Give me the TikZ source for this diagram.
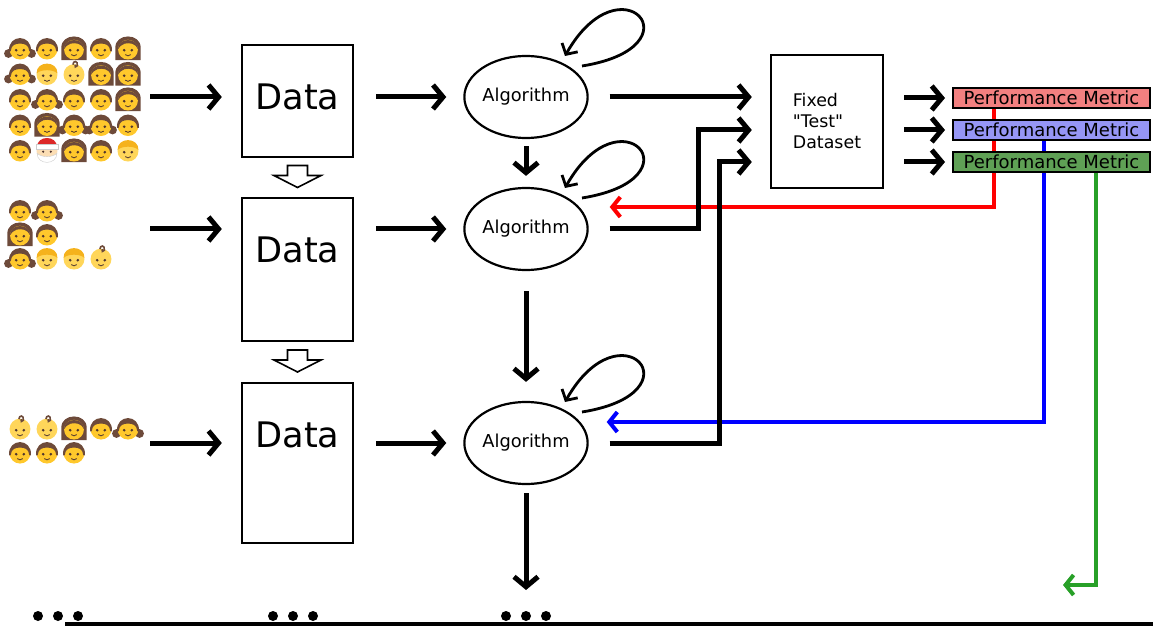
\documentclass[tikz,border=0pt]{standalone}
\usepackage{fontspec}
\setmainfont{DejaVu Sans}
\usetikzlibrary{calc}
\usetikzlibrary{shapes.geometric}
\usetikzlibrary{positioning}
\usetikzlibrary{arrows.meta}

\definecolor{faceyellow}{RGB}{255,200,44}
\definecolor{babyyellow}{RGB}{255,214,90}
\definecolor{blondhair}{RGB}{245,178,28}
\definecolor{hairbrown}{RGB}{109,74,58}
\definecolor{eyebrown}{RGB}{78,52,46}
\definecolor{santaskin}{RGB}{252,222,180}
\definecolor{santared}{RGB}{220,40,40}
\definecolor{metricred}{RGB}{242,128,128}
\definecolor{metricblue}{RGB}{150,150,245}
\definecolor{metricgreen}{RGB}{95,160,85}
\definecolor{linegreen}{RGB}{40,160,40}

\pgfdeclarelayer{background}
\pgfsetlayers{background,main}

% faces, drawn around (0,0), y pointing down
\newcommand\faceeyes{%
  \fill[eyebrown] (-3.5,2) circle (1.3) (3.5,2) circle (1.3);
  \draw[eyebrown, line width=.4pt] (-2.5,6) .. controls (0,7.5) .. (2.5,6);}
\newcommand\faceboy{%
  \fill[faceyellow] (0,1) circle (9.5);
  \fill[hairbrown] (-10,3) .. controls (-11,-13) and (11,-13) .. (10,3) -- (8.5,3)
    .. controls (8,-3) and (4,-4) .. (0,-4) .. controls (-4,-4) and (-8,-3) .. (-8.5,3) -- cycle;
  \faceeyes}
\newcommand\facegirl{%
  \fill[hairbrown] (-10.5,5) circle (4) (10.5,5) circle (4);
  \faceboy}
\newcommand\facewoman{%
  \fill[hairbrown] (-11.5,11) -- (-11.5,0) .. controls (-12,-14) and (12,-14) .. (11.5,0) -- (11.5,11) -- cycle;
  \fill[faceyellow] (0,1.5) circle (9);
  \fill[hairbrown] (-9,1) .. controls (-9,-10) and (9,-10) .. (9,1)
    .. controls (7,-4) and (2,-5) .. (-3,-4) .. controls (-6,-3) and (-8,-1) .. (-9,1) -- cycle;
  \faceeyes}
\newcommand\facebaby{%
  \fill[babyyellow] (0,1) circle (9.5);
  \draw[hairbrown, line width=.8pt] (-1,-8) .. controls (-1,-12) and (4,-12) .. (3,-7)
    .. controls (2,-5) and (0,-6) .. (1,-8);
  \faceeyes}
\newcommand\faceblond{%
  \fill[babyyellow] (0,1) circle (9.5);
  \fill[blondhair] (-9.5,0) .. controls (-10,-12) and (10,-12) .. (9.5,0)
    .. controls (6,-4) and (-6,-4) .. (-9.5,0) -- cycle;
  \faceeyes}
\newcommand\facesanta{%
  \fill[santaskin] (0,1) circle (9.5);
  \fill[santared] (-9,-3) .. controls (-9,-14) and (9,-14) .. (9,-3) -- cycle;
  \fill[white, draw=black!20, line width=.2pt] (-10,-5) rectangle (10,-1);
  \fill[white, draw=black!20, line width=.2pt] (-9,3) .. controls (-9,14) and (9,14) .. (9,3)
    .. controls (5,7) and (-5,7) .. (-9,3) -- cycle;
  \fill[eyebrown] (-3.5,1.5) circle (1.1) (3.5,1.5) circle (1.1);}

\begin{document}
\begin{tikzpicture}[x=0.5pt, y=-0.5pt]

\tikzset{
    pics/face/.style={code={\csname face#1\endcsname}},
    bigarrow/.style={-{Straight Barb[length=5pt,width=12pt]}, line width=2.5pt},
    backarrow/.style={-{Straight Barb[length=4pt,width=10pt]}, line width=2pt},
    selfloop/.style={-{Straight Barb[length=4pt,width=9pt]}, line width=1.4pt},
    databox/.style={draw, line width=1.2pt, minimum width=55.5pt, inner sep=0pt},
    datalabel/.style={inner sep=0pt, font=\fontsize{17.6}{20}\selectfont},
    algo/.style={draw, ellipse, line width=1.1pt, minimum width=61pt, minimum height=41pt,
      inner sep=0pt, font=\fontsize{8.9}{10}\selectfont},
    hollow/.style={draw, line width=.8pt, line join=miter, fill=white},
    metric/.style={draw, line width=1pt, minimum width=98.5pt, minimum height=10pt, inner sep=0pt,
      font=\fontsize{9}{10}\selectfont}
}

\useasboundingbox (0,0) rectangle (1153,626);

%crowds
\foreach \row [count=\r from 0] in {{girl,boy,woman,boy,woman},{girl,blond,baby,woman,woman},
    {boy,girl,boy,boy,woman},{boy,woman,girl,girl,boy},{boy,santa,woman,boy,blond}}
  \foreach \f [count=\c from 0] in \row
    \pic[scale=1.1] at ({20+27*\c},{48+25.5*\r}) {face=\f};
\foreach \row [count=\r from 0] in {{boy,girl},{woman,boy},{girl,blond,blond,baby}}
  \foreach \f [count=\c from 0] in \row
    \pic[scale=1.1] at ({20+27*\c},{210+24*\r}) {face=\f};
\foreach \row [count=\r from 0] in {{baby,baby,woman,boy,girl},{boy,boy,boy}}
  \foreach \f [count=\c from 0] in \row
    \pic[scale=1.1] at ({20+27*\c},{428+24*\r}) {face=\f};

\coordinate (crowd1) at (150,97);
\coordinate (crowd2) at (150,229);
\coordinate (crowd3) at (150,443);

%data boxes
\node[databox, minimum height=56pt] (data1) at (297.5,101) {};
\node[databox, minimum height=71.5pt] (data2) at (297.5,269.5) {};
\node[databox, minimum height=80pt] (data3) at (297.5,463) {};
\foreach \i in {1,2,3}
  \node[datalabel, below=20pt of data\i.north] (dlabel\i) {Data};

%hollow arrows between the boxes
\coordinate (shift1) at ($(data1.south)!0.5!(data2.north)$);
\coordinate (shift2) at ($(data2.south)!0.5!(data3.north)$);
\foreach \s in {shift1,shift2}
  \draw[hollow] ([shift={(-10,-12)}]\s) -- ++(20,0) -- ++(0,10) -- ++(13.5,0) -- ++(-23.5,12)
    -- ++(-23.5,-12) -- ++(13.5,0) -- cycle;

%algorithms
\node[algo] (alg1) at (526,97) {Algorithm};
\node[algo] (alg2) at (526,229) {Algorithm};
\node[algo] (alg3) at (526,443) {Algorithm};

\foreach \a in {alg1,alg2,alg3}
  \draw[selfloop] ([shift={(56,-31)}]\a.center) .. controls ([shift={(175,-50)}]\a.center)
    and ([shift={(95,-140)}]\a.center) .. ([shift={(39,-41)}]\a.center);

\foreach \i in {1,2,3} {
  \draw[bigarrow, shorten >=9.5pt] (crowd\i) -- (crowd\i -| data\i.west);
  \draw[bigarrow, shorten <=11pt, shorten >=8.5pt] (alg\i -| data\i.east) -- (alg\i.west);
}

%fixed test set
\node[draw, line width=1.2pt, minimum width=56pt, minimum height=66.5pt, align=left,
  font=\fontsize{8.7}{10.5}\selectfont] (fixed) at (827,121.5)
  {Fixed\\\textquotedbl Test\textquotedbl\\Dataset};

%metrics
\node[metric, fill=metricred] (pm1) at (1051.5,98) {Performance Metric};
\node[metric, fill=metricblue, below=5pt of pm1] (pm2) {Performance Metric};
\node[metric, fill=metricgreen, below=5pt of pm2] (pm3) {Performance Metric};

%down the chain
\foreach \x [count=\i] in {58,293,526} {
  \coordinate (more\i) at (\x,616);
  \foreach \d in {-20,0,20}
    \fill ([xshift=\d*0.5pt]more\i) circle (5);
}
\draw[line width=2pt] (65,624) -- (1153,624);

\draw[bigarrow, shorten <=3.5pt, shorten >=5.5pt] (alg1.south) -- (alg2.north);
\draw[bigarrow, shorten <=10pt, shorten >=9.5pt] (alg2.south) -- (alg3.north);
\draw[bigarrow, shorten <=4pt, shorten >=13pt] (alg3.south) -- (alg3.south |- more3);

%to the test set
\draw[bigarrow, shorten <=10.5pt, shorten >=9pt] (alg1.east) -- (alg1 -| fixed.west);
\draw[bigarrow, shorten <=10.5pt, shorten >=9pt] (alg2.east) -- ++(110,0) |- (fixed.west |- pm2);
\draw[bigarrow, shorten <=10.5pt, shorten >=9pt] (alg3.east) -- ++(131,0) |- (fixed.west |- pm3);

\foreach \i in {1,2,3}
  \draw[bigarrow, shorten <=10pt, shorten >=3.5pt] (fixed.east |- pm\i) -- (pm\i.west);

%feedback
\coordinate (back2) at ([xshift=10.5pt, yshift=11pt]alg2.east);
\coordinate (back3) at ([xshift=9pt, yshift=10.5pt]alg3.east);
\coordinate (backend) at (1063,585);
\begin{pgfonlayer}{background}
\draw[backarrow, red] ([xshift=21pt]pm1.south west) |- (back2);
\draw[backarrow, blue] ([xshift=46pt]pm2.south west) |- (back3);
\draw[backarrow, linegreen] ([xshift=72pt]pm3.south west) |- (backend);
\end{pgfonlayer}

\end{tikzpicture}
\end{document}
